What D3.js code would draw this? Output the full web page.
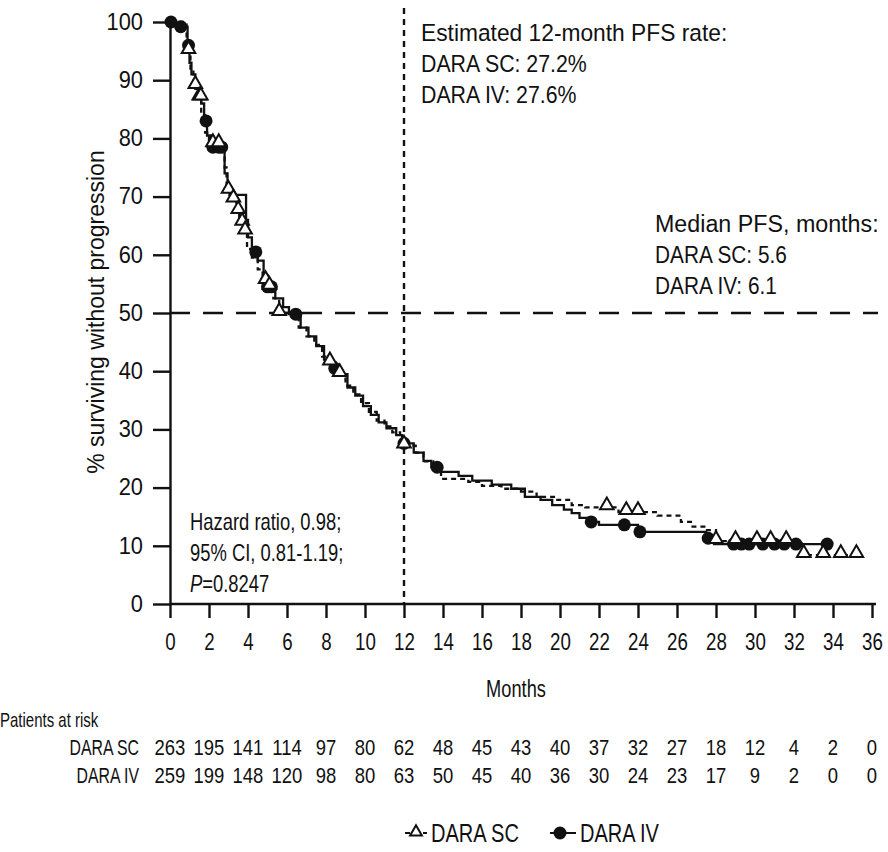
<!DOCTYPE html>
<html><head><meta charset="utf-8">
<script src="https://cdn.jsdelivr.net/npm/d3@7"></script>
<style>
body{margin:0;background:#fff;}
svg text{font-family:"Liberation Sans",Arial,Helvetica,sans-serif;fill:#111;}
</style></head><body>
<svg id="chart" width="888" height="852"></svg>
<script>
// Kaplan-Meier step data: time in months, % progression-free after each event
const scTime = [0, 0.85, 0.95, 1.05, 1.2, 1.45, 1.6, 1.8, 2.0, 2.8, 2.9, 3.2, 3.4, 3.55, 3.75, 3.95, 4.2, 4.5, 4.75, 5.0, 5.3, 5.6, 6.1, 6.6, 7.0, 7.4, 7.8, 8.2, 8.5, 9.0, 9.4, 9.8, 10.2, 10.6, 11.0, 11.4, 11.8, 12.0, 12.6, 13.0, 13.5, 13.9, 15.3, 16.0, 17.0, 18.0, 18.8, 19.8, 20.6, 21.3, 23.0, 25.0, 26.2, 26.8, 27.4, 28.0, 32.4];
const scSurv = [100, 97, 95, 92, 89, 87, 84, 81, 79, 75, 71, 69.5, 67.5, 65.5, 64, 61, 59.5, 57.5, 55.5, 54.5, 52.5, 50.0, 49.5, 47.5, 46, 44.5, 42.5, 41.5, 39.5, 37.5, 36, 34.5, 33, 31.5, 30.5, 29.5, 28, 27.2, 26, 24.5, 23.5, 21.5, 21, 20.3, 19.8, 19.3, 18.4, 17.9, 17, 16.6, 15.8, 15.2, 14.1, 13.3, 12.7, 10.8, 8.4];
const scEnd = 35.3;
const scCensor = [0.95, 1.3, 1.5, 1.58, 2.2, 2.5, 3.0, 3.25, 3.5, 3.7, 3.85, 4.9, 5.1, 5.6, 8.2, 8.7, 12.0, 22.4, 23.4, 24.0, 28.0, 29.0, 30.1, 30.8, 31.6, 32.5, 33.5, 34.4, 35.2];

const ivTime = [0, 0.3, 0.9, 1.0, 1.1, 1.3, 1.6, 1.75, 1.9, 2.1, 2.8, 2.95, 3.05, 3.9, 4.0, 4.2, 4.5, 4.8, 5.0, 5.4, 5.8, 6.1, 6.7, 7.1, 7.5, 7.9, 8.3, 8.6, 9.1, 9.5, 9.9, 10.3, 10.7, 11.1, 11.6, 11.9, 12.5, 13.0, 13.4, 13.8, 14.8, 15.5, 16.5, 17.5, 18.2, 19.0, 19.6, 20.2, 20.6, 21.0, 21.4, 22.0, 24.0, 27.5, 27.9];
const ivSurv = [100, 99.2, 96, 93, 91, 88.5, 86, 83, 80.5, 78.5, 74, 72, 70.3, 66, 63, 60.5, 59, 56.5, 54.5, 52.5, 51, 49.8, 47.5, 46, 44.3, 42, 40.5, 39.5, 37.2, 35.8, 34, 32.5, 31.2, 30.2, 29, 27.6, 26, 24.6, 23.5, 22.7, 22.0, 21.2, 20.5, 19.8, 18.4, 17.9, 17.0, 16.2, 15.6, 14.8, 14.1, 13.6, 12.4, 11.3, 10.3];
const ivEnd = 33.7;
const ivCensor = [0.05, 0.55, 0.95, 1.85, 2.2, 2.5, 2.65, 4.4, 5.0, 5.2, 6.45, 8.45, 12.0, 13.7, 21.6, 23.3, 24.1, 27.6, 28.9, 29.3, 29.7, 30.4, 31.0, 31.5, 32.1, 33.7];

// Patients at risk, every 2 months
const riskMonths = [0, 2, 4, 6, 8, 10, 12, 14, 16, 18, 20, 22, 24, 26, 28, 30, 32, 34, 36];
const riskSC = [263, 195, 141, 114, 97, 80, 62, 48, 45, 43, 40, 37, 32, 27, 18, 12, 4, 2, 0];
const riskIV = [259, 199, 148, 120, 98, 80, 63, 50, 45, 40, 36, 30, 24, 23, 17, 9, 2, 0, 0];

const xTicks = d3.range(0, 37, 2);
const yTicks = d3.range(0, 101, 10);

const svg = d3.select("#chart");
const x = d3.scaleLinear().domain([0, 36]).range([170, 872]);
const y = d3.scaleLinear().domain([0, 100]).range([604, 22]);

// horizontally condense text around its own anchor (condensed typeface look)
function condense(sel, s) {
  sel.each(function () {
    const t = d3.select(this);
    const x0 = +t.attr("x") || 0;
    const prev = t.attr("transform") || "";
    t.attr("transform", `${prev} translate(${x0},0) scale(${s},1) translate(${-x0},0)`);
  });
  return sel;
}

// reference lines: median (50%) and 12-month landmark
svg.append("line").attr("x1", x(0)).attr("x2", 878).attr("y1", y(50)).attr("y2", y(50))
  .attr("stroke", "#111").attr("stroke-width", 2.4).attr("stroke-dasharray", "20,13");
svg.append("line").attr("x1", x(12)).attr("x2", x(12)).attr("y1", 8).attr("y2", y(0))
  .attr("stroke", "#111").attr("stroke-width", 2.4).attr("stroke-dasharray", "6,5");

// axes
const yAxis = svg.append("g").attr("transform", `translate(${x(0)},0)`)
  .call(d3.axisLeft(y).tickValues(yTicks).tickSize(17).tickSizeOuter(0).tickPadding(10));
const xAxis = svg.append("g").attr("transform", `translate(0,${y(0)})`)
  .call(d3.axisBottom(x).tickValues(xTicks).tickSize(14).tickSizeOuter(0).tickPadding(15));
[yAxis, xAxis].forEach(g => {
  g.selectAll("path,line").attr("stroke", "#111").attr("stroke-width", 2.4);
  g.selectAll("text").attr("fill", "#111");
});
yAxis.selectAll("text").attr("font-size", 23);
condense(yAxis.selectAll("text"), 0.95);
xAxis.selectAll("text").attr("font-size", 24);
condense(xAxis.selectAll("text"), 0.78);
xAxis.select("path").attr("d", `M${x(0)},0H876`);

svg.append("text").attr("transform", "translate(104,312) rotate(-90)")
  .attr("text-anchor", "middle").attr("font-size", 23).text("% surviving without progression");
condense(svg.append("text").attr("x", 516).attr("y", 697).attr("text-anchor", "middle")
  .attr("font-size", 24).text("Months"), 0.76);

// survival curves
function stepPoints(times, surv, end) {
  const pts = times.map((t, i) => [t, surv[i]]);
  pts.push([end, surv[surv.length - 1]]);
  return pts;
}
function survAt(times, surv, t) {
  let v = surv[0];
  for (let i = 0; i < times.length; i++) { if (times[i] <= t) v = surv[i]; }
  return v;
}
const line = d3.line().x(d => x(d[0])).y(d => y(d[1])).curve(d3.curveStepAfter);

svg.append("path").attr("d", line(stepPoints(ivTime, ivSurv, ivEnd)))
  .attr("fill", "none").attr("stroke", "#111").attr("stroke-width", 2.3);
svg.append("path").attr("d", line(stepPoints(scTime, scSurv, scEnd)))
  .attr("fill", "none").attr("stroke", "#111").attr("stroke-width", 2.3).attr("stroke-dasharray", "5,4");

const tri = d3.symbol(d3.symbolTriangle, 80);
svg.append("g").selectAll("circle").data(ivCensor).join("circle")
  .attr("cx", d => x(d)).attr("cy", d => y(survAt(ivTime, ivSurv, d)))
  .attr("r", 6.5).attr("fill", "#111");
svg.append("g").selectAll("path").data(scCensor).join("path")
  .attr("d", tri)
  .attr("transform", d => `translate(${x(d)},${y(survAt(scTime, scSurv, d)) - 2})`)
  .attr("fill", "#fff").attr("stroke", "#111").attr("stroke-width", 2);

// annotations: one text per line so each can take its own horizontal scale
function block(x0, y0, size, lines) {
  lines.forEach(([content, s], i) => {
    const t = svg.append("text").attr("x", x0).attr("y", y0 + i * 31).attr("font-size", size);
    if (Array.isArray(content)) {
      content.forEach(p => t.append("tspan").attr("font-style", p.italic ? "italic" : null).text(p.text));
    } else t.text(content);
    condense(t, s);
  });
}
block(421, 41, 24.5, [["Estimated 12-month PFS rate:", 0.93], ["DARA SC: 27.2%", 0.87], ["DARA IV: 27.6%", 0.87]]);
block(655, 232, 24.5, [["Median PFS, months:", 0.95], ["DARA SC: 5.6", 0.85], ["DARA IV: 6.1", 0.85]]);
block(190, 530, 23, [["Hazard ratio, 0.98;", 0.8], ["95% CI, 0.81-1.19;", 0.8],
  [[{text: "P", italic: true}, {text: "=0.8247"}], 0.8]]);

// patients at risk table
condense(svg.append("text").attr("x", 0).attr("y", 727).attr("font-size", 20).text("Patients at risk"), 0.75);
[["DARA SC", riskSC, 755], ["DARA IV", riskIV, 783]].forEach(([name, vals, yy]) => {
  condense(svg.append("text").attr("x", 139).attr("y", yy).attr("text-anchor", "end")
    .attr("font-size", 22).text(name), 0.72);
  condense(svg.append("g").selectAll("text").data(vals).join("text")
    .attr("x", (d, i) => x(riskMonths[i])).attr("y", yy).attr("text-anchor", "middle")
    .attr("font-size", 22).text(d => d), 0.84);
});

// legend
const lg = svg.append("g");
lg.append("line").attr("x1", 405).attr("x2", 427).attr("y1", 833).attr("y2", 833)
  .attr("stroke", "#111").attr("stroke-width", 2).attr("stroke-dasharray", "5,4");
lg.append("path").attr("d", d3.symbol(d3.symbolTriangle, 60)).attr("transform", "translate(416,832)")
  .attr("fill", "#fff").attr("stroke", "#111").attr("stroke-width", 2);
condense(lg.append("text").attr("x", 431).attr("y", 842).attr("font-size", 26).text("DARA SC"), 0.77);
lg.append("line").attr("x1", 550).attr("x2", 576).attr("y1", 833).attr("y2", 833)
  .attr("stroke", "#111").attr("stroke-width", 2);
lg.append("circle").attr("cx", 560).attr("cy", 833).attr("r", 6.5).attr("fill", "#111");
condense(lg.append("text").attr("x", 580).attr("y", 842).attr("font-size", 26).text("DARA IV"), 0.77);
</script>
</body></html>
